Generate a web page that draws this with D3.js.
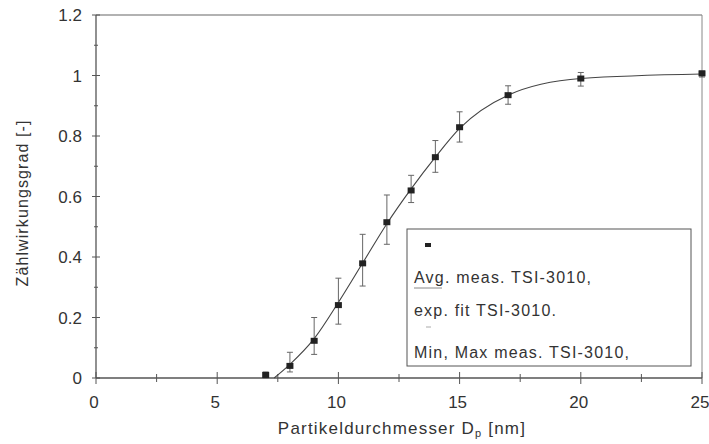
<!DOCTYPE html>
<html><head><meta charset="utf-8">
<script src="https://cdn.jsdelivr.net/npm/d3@7/dist/d3.min.js"></script>
<style>body{margin:0;background:#fff;}svg{display:block;font-family:"Liberation Sans",Arial,sans-serif;}</style>
</head><body><svg id="c" width="709" height="444"></svg>
<script>
const diam = [7, 8, 9, 10, 11, 12, 13, 14, 15, 17, 20, 25];
const avg = [0.01, 0.04, 0.123, 0.241, 0.379, 0.515, 0.62, 0.73, 0.829, 0.935, 0.99, 1.007];
const minV = [0.0, 0.02, 0.078, 0.178, 0.304, 0.442, 0.58, 0.68, 0.78, 0.905, 0.965, 0.995];
const maxV = [0.02, 0.085, 0.2, 0.33, 0.475, 0.605, 0.67, 0.785, 0.88, 0.966, 1.01, 1.015];
const fitX = [7.35, 8, 9, 10, 11, 12, 13, 14, 15, 17, 20, 25];
const fitY = [0, 0.045, 0.13, 0.25, 0.38, 0.51, 0.625, 0.73, 0.825, 0.935, 0.99, 1.005];
const xTicks = [0, 5, 10, 15, 20, 25];
const yTicks = [0, 0.2, 0.4, 0.6, 0.8, 1, 1.2];
const legendLabels = ["Avg. meas. TSI-3010,", "exp. fit TSI-3010.", "Min, Max meas. TSI-3010,"];

const svg = d3.select("#c");
const x = d3.scaleLinear().domain([0, 25]).range([96, 702]);
const y = d3.scaleLinear().domain([0, 1.2]).range([378, 15]);
const txt = "#333", ax = "#555";

// frame top/right
svg.append("line").attr("x1", 96).attr("x2", 702).attr("y1", y(1.2)).attr("y2", y(1.2)).attr("stroke", "#999").attr("stroke-width", 1.5);
svg.append("line").attr("x1", 702).attr("x2", 702).attr("y1", y(1.2)).attr("y2", y(0)).attr("stroke", "#888").attr("stroke-width", 1);

// axes lines
svg.append("line").attr("x1", 96).attr("x2", 702).attr("y1", 378).attr("y2", 378).attr("stroke", ax).attr("stroke-width", 1.3);
svg.append("line").attr("x1", 96).attr("x2", 96).attr("y1", 15).attr("y2", 378).attr("stroke", ax).attr("stroke-width", 1.3);

// x ticks
d3.range(0, 25.01, 2.5).forEach(v => {
  const major = Math.abs(v % 5) < 1e-9;
  svg.append("line").attr("x1", x(v)).attr("x2", x(v))
    .attr("y1", 378 - (major ? 6 : 4)).attr("y2", 378 + (major ? 6 : 4))
    .attr("stroke", ax).attr("stroke-width", 1);
});
svg.selectAll(".xt").data(xTicks).enter().append("text")
  .attr("x", d => x(d) - 2).attr("y", 408).attr("text-anchor", "middle")
  .attr("font-size", 17).attr("fill", txt).text(d => d);

// y ticks
d3.range(0, 1.201, 0.1).forEach(v => {
  const major = Math.abs(Math.round(v * 10) % 2) === 0;
  svg.append("line").attr("x1", 96 - (major ? 4 : 2)).attr("x2", 96 + (major ? 4 : 2))
    .attr("y1", y(v)).attr("y2", y(v)).attr("stroke", ax).attr("stroke-width", 1);
});
svg.selectAll(".yt").data(yTicks).enter().append("text")
  .attr("x", 82).attr("y", d => y(d) + 6).attr("text-anchor", "end")
  .attr("font-size", 17).attr("fill", txt).text(d => d);

// axis titles
const xt = svg.append("text").attr("x", 402).attr("y", 434).attr("text-anchor", "middle")
  .attr("font-size", 17).attr("letter-spacing", 1.2).attr("fill", txt);
xt.append("tspan").text("Partikeldurchmesser D");
xt.append("tspan").attr("font-size", 11).attr("dy", 3).text("p");
xt.append("tspan").attr("dy", -3).text(" [nm]");
svg.append("text").attr("transform", "translate(28,203) rotate(-90)").attr("text-anchor", "middle")
  .attr("font-size", 16).attr("letter-spacing", 1.1).attr("fill", txt).text("Zählwirkungsgrad [-]");

// fit line
const fit = fitX.map((d, i) => [d, fitY[i]]);
svg.append("path").datum(fit)
  .attr("d", d3.line().x(d => x(d[0])).y(d => y(d[1])).curve(d3.curveMonotoneX))
  .attr("fill", "none").attr("stroke", "#444").attr("stroke-width", 1.1);

// error bars
const pts = diam.map((d, i) => ({d, a: avg[i], lo: minV[i], hi: maxV[i]}));
const eb = svg.append("g").attr("stroke", "#666").attr("stroke-width", 1);
pts.forEach(p => {
  eb.append("line").attr("x1", x(p.d)).attr("x2", x(p.d)).attr("y1", y(p.lo)).attr("y2", y(p.hi));
  eb.append("line").attr("x1", x(p.d) - 3).attr("x2", x(p.d) + 3).attr("y1", y(p.lo)).attr("y2", y(p.lo));
  eb.append("line").attr("x1", x(p.d) - 3).attr("x2", x(p.d) + 3).attr("y1", y(p.hi)).attr("y2", y(p.hi));
});
svg.selectAll(".pt").data(pts).enter().append("rect")
  .attr("x", p => x(p.d) - 3.5).attr("y", p => y(p.a) - 3).attr("width", 7).attr("height", 6)
  .attr("fill", "#222");

// legend
svg.append("rect").attr("x", 407).attr("y", 229).attr("width", 284).attr("height", 137)
  .attr("fill", "#fff").attr("stroke", "#555").attr("stroke-width", 1);
svg.append("rect").attr("x", 425).attr("y", 243).attr("width", 6).attr("height", 4).attr("fill", "#222");
svg.append("line").attr("x1", 414).attr("x2", 442).attr("y1", 288).attr("y2", 288).attr("stroke", "#888").attr("stroke-width", 1);
svg.append("line").attr("x1", 426).attr("x2", 431).attr("y1", 327).attr("y2", 327).attr("stroke", "#aaa").attr("stroke-width", 1);
svg.selectAll(".lg").data(legendLabels).enter().append("text")
  .attr("x", 414).attr("y", (d, i) => [283, 316, 358][i])
  .attr("font-size", 16).attr("letter-spacing", 1.2).attr("fill", txt).text(d => d);
</script></body></html>
